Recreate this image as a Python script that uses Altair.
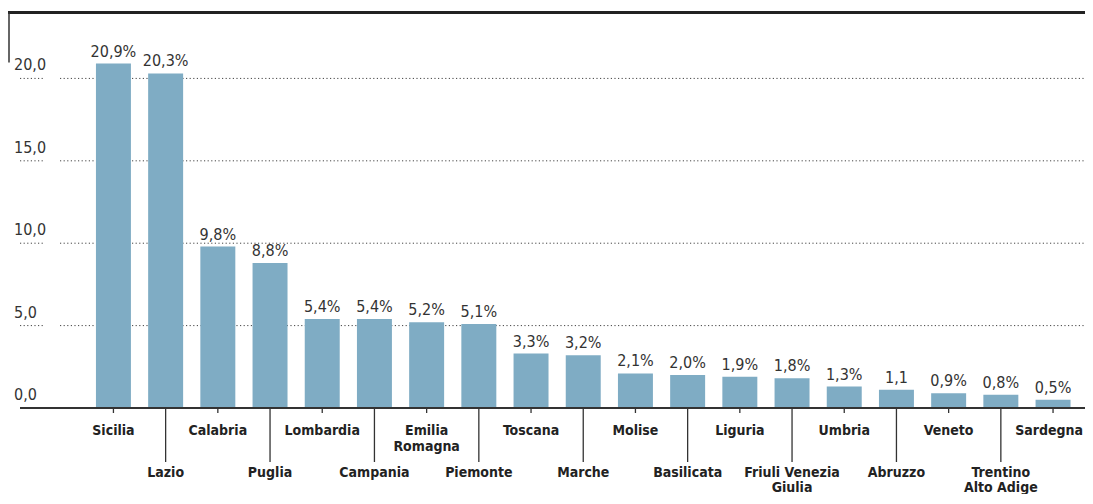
import altair as alt
import pandas as pd

regions = ["Sicilia", "Lazio", "Calabria", "Puglia", "Lombardia", "Campania",
           "Emilia\nRomagna", "Piemonte", "Toscana", "Marche", "Molise",
           "Basilicata", "Liguria", "Friuli Venezia\nGiulia", "Umbria",
           "Abruzzo", "Veneto", "Trentino\nAlto Adige", "Sardegna"]
values = [20.9, 20.3, 9.8, 8.8, 5.4, 5.4, 5.2, 5.1, 3.3, 3.2, 2.1, 2.0,
          1.9, 1.8, 1.3, 1.1, 0.9, 0.8, 0.5]
value_labels = ["20,9%", "20,3%", "9,8%", "8,8%", "5,4%", "5,4%", "5,2%",
                "5,1%", "3,3%", "3,2%", "2,1%", "2,0%", "1,9%", "1,8%",
                "1,3%", "1,1", "0,9%", "0,8%", "0,5%"]
y_ticks = [0, 5, 10, 15, 20]
y_tick_labels = ["0,0", "5,0", "10,0", "15,0", "20,0"]

df = pd.DataFrame({"region": regions, "value": values, "label": value_labels})
df["row"] = [i % 2 for i in range(len(regions))]
df["last"] = [i == len(regions) - 1 for i in range(len(regions))]
ydf = pd.DataFrame({"v": y_ticks, "t": y_tick_labels})

W, H = 1065, 395.5
FONT = "DejaVu Sans Condensed, Liberation Sans Narrow, sans-serif"

xscale = alt.Scale(paddingInner=0.33, paddingOuter=0.866, align=0.84)
yscale = alt.Scale(domain=[0, 24], nice=False, zero=True)


def X():
    return alt.X("region:N", sort=regions, scale=xscale, axis=None)


def Y(field):
    return alt.Y(field, scale=yscale, axis=None)


base = alt.Chart(df)
ybase = alt.Chart(ydf)

grid = ybase.transform_filter("datum.v > 0").mark_rule(
    color="#444", strokeWidth=1, strokeDash=[1.2, 2.4]
).encode(x=alt.value(40), x2=alt.value(W), y=Y("v:Q"))

short_grid = ybase.transform_filter("datum.v > 0").mark_rule(
    color="#444", strokeWidth=1, strokeDash=[1.2, 2.4]
).encode(x=alt.value(0), x2=alt.value(23), y=Y("v:Q"))

ylabels = ybase.mark_text(
    align="left", baseline="alphabetic", dy=-8, font=FONT, fontSize=16, color="#333"
).encode(x=alt.value(-6), y=Y("v:Q"), text="t:N")

bars = base.mark_bar(color="#7facc4").encode(x=X(), y=Y("value:Q"))

vlabels = base.mark_text(
    baseline="alphabetic", dy=-7, font=FONT, fontSize=16, color="#333"
).encode(x=X(), y=Y("value:Q"), text="label:N")

frame = ybase.transform_filter("datum.v == 0")
baseline_rule = frame.mark_rule(color="#333", strokeWidth=2).encode(
    x=alt.value(0), x2=alt.value(W), y=Y("v:Q")
)
top_rule = frame.mark_rule(color="#222", strokeWidth=3).encode(
    x=alt.value(-12), x2=alt.value(W), y=alt.value(0)
)
left_rule = frame.mark_rule(color="#333", strokeWidth=1.5).encode(
    x=alt.value(-11), y=alt.value(0), y2=alt.value(50)
)

ticks_short = base.transform_filter("datum.row == 0").mark_rule(
    color="#333", strokeWidth=1.3
).encode(x=X(), y=alt.value(H), y2=alt.value(H + 5))
ticks_long = base.transform_filter("datum.row == 1").mark_rule(
    color="#333", strokeWidth=1.3
).encode(x=X(), y=alt.value(H), y2=alt.value(H + 54))

cat_top = base.transform_filter("datum.row == 0 && !datum.last").mark_text(
    baseline="top", font=FONT, fontSize=14, fontWeight="bold", color="#222",
    lineBreak="\n", lineHeight=16
).encode(x=X(), y=alt.value(H + 16), text="region:N")
cat_last = base.transform_filter("datum.last").mark_text(
    baseline="top", font=FONT, fontSize=14, fontWeight="bold", color="#222",
    dx=-4
).encode(x=X(), y=alt.value(H + 16), text="region:N")
cat_bot = base.transform_filter("datum.row == 1").mark_text(
    baseline="top", font=FONT, fontSize=14, fontWeight="bold", color="#222",
    lineBreak="\n", lineHeight=14.5
).encode(x=X(), y=alt.value(H + 58), text="region:N")

chart = alt.layer(
    grid, short_grid, ylabels, bars, vlabels, baseline_rule, top_rule, left_rule,
    ticks_short, ticks_long, cat_top, cat_last, cat_bot
).properties(
    width=W, height=H,
    autosize=alt.AutoSizeParams(type="none"),
    padding={"left": 12, "top": 4.5, "right": 0, "bottom": 86}
).configure_view(strokeWidth=0)

chart.save("out.html", embed_options={"renderer": "svg", "actions": False})
